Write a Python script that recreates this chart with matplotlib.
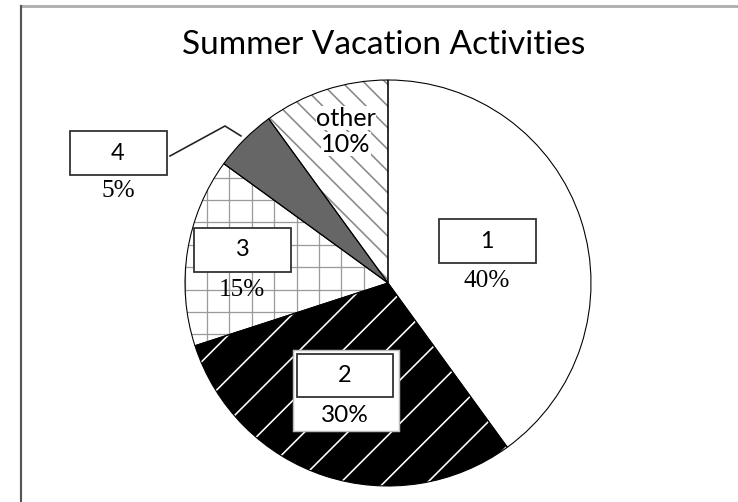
import matplotlib
matplotlib.use("Agg")
import matplotlib.pyplot as plt
from matplotlib.patches import Rectangle
from matplotlib.lines import Line2D
import numpy as np

# data
labels = ["1", "2", "3", "4", "other"]
shares = [40, 30, 15, 5, 10]
pct_text = ["40%", "30%", "15%", "5%", "10%"]

# styles per slice
fills = ["white", "black", "white", "#666666", "white"]
hatches = [None, "/", None, None, "\\\\"]
hatch_cols = ["white", "white", "white", "#666666", "#8a8a8a"]

plt.rcParams["hatch.linewidth"] = 0.9

DPI = 130
R = 1.015
fig = plt.figure(figsize=(738 / DPI, 502 / DPI), dpi=DPI)
ax = fig.add_axes([0, 0, 1, 1])

# hatched fills
wedges, _ = ax.pie(shares, colors=fills, startangle=90, counterclock=False, radius=R,
                   wedgeprops=dict(linewidth=0))
for w, h, hc in zip(wedges, hatches, hatch_cols):
    w.set_edgecolor(hc)
    if h:
        w.set_hatch(h)

# coarse grid texture for slice 3, clipped to the wedge
step = 0.112
gx = np.arange(-0.905 - 2 * step, 0.2, step)
gy = np.arange(0.415 - 12 * step, 1.1, step)
vl = ax.vlines(gx, -1.1, 1.1, color="#9a9a9a", linewidth=0.7, zorder=2)
hl = ax.hlines(gy, -1.1, 1.1, color="#9a9a9a", linewidth=0.7, zorder=2)
vl.set_clip_path(wedges[2])
hl.set_clip_path(wedges[2])

# black outlines on top
outl, _ = ax.pie(shares, startangle=90, counterclock=False, radius=R,
                 wedgeprops=dict(fill=False, edgecolor="black", linewidth=0.6))
for o in outl:
    o.set_zorder(3)

# pixel-matched limits (1 unit = 200 px)
ax.set_xlim(-1.94, 1.75)
ax.set_ylim(-1.095, 1.415)
ax.set_aspect("auto")
ax.axis("off")

sans = "Lato"
serif = "Liberation Serif"

def box(cx, cy, w=0.485, h=0.22):
    ax.add_patch(Rectangle((cx - w / 2, cy - h / 2), w, h, facecolor="white",
                           edgecolor="#333333", linewidth=1.0, zorder=5))

# slice 1
box(0.495, 0.21)
ax.text(0.495, 0.21, labels[0], ha="center", va="center", fontsize=13, family=sans, zorder=6)
ax.text(0.495, 0.01, pct_text[0], ha="center", va="center", fontsize=14, family=serif, zorder=6)

# slice 2 (white backdrop behind box and percent)
ax.add_patch(Rectangle((-0.21 - 0.265, -0.5375 - 0.2025), 0.53, 0.405,
                       facecolor="white", edgecolor="#bbbbbb", linewidth=0.8, zorder=4))
box(-0.215, -0.4625, w=0.48, h=0.215)
ax.text(-0.215, -0.4625, labels[1], ha="center", va="center", fontsize=13, family=sans, zorder=6)
ax.text(-0.215, -0.66, pct_text[1], ha="center", va="center", fontsize=13.5, family=sans, zorder=6)

# slice 3
box(-0.73, 0.1675)
ax.text(-0.73, 0.1675, labels[2], ha="center", va="center", fontsize=13, family=sans, zorder=6)
ax.text(-0.73, -0.035, pct_text[2], ha="center", va="center", fontsize=14, family=serif, zorder=6)

# slice 4 with leader line
box(-1.35, 0.65)
ax.text(-1.35, 0.65, labels[3], ha="center", va="center", fontsize=13, family=sans, zorder=6)
ax.text(-1.35, 0.46, pct_text[3], ha="center", va="center", fontsize=14, family=serif, zorder=6)
w4 = wedges[3]
mid = np.deg2rad((w4.theta1 + w4.theta2) / 2)
ex, ey = 1.04 * np.cos(mid), 1.04 * np.sin(mid)
ax.plot([-1.09, -0.815, ex], [0.635, 0.785, ey], color="#222222", linewidth=0.9, zorder=6)

# other
ax.text(-0.21, 0.825, labels[4], ha="center", va="center", fontsize=14, family=sans, zorder=6,
        bbox=dict(facecolor="white", edgecolor="none", pad=0.3))
ax.text(-0.21, 0.695, pct_text[4], ha="center", va="center", fontsize=14, family=sans, zorder=6,
        bbox=dict(facecolor="white", edgecolor="none", pad=0.3))

# title
fig.text(384 / 738, 1 - 45 / 502, "Summer Vacation Activities", ha="center", va="center",
         fontsize=18.5, family=sans)

# outer frame (cropped)
fig.add_artist(Line2D([21 / 738, 1], [1 - 6 / 502, 1 - 6 / 502], color="#b0b0b0",
                      linewidth=1.6, transform=fig.transFigure))
fig.add_artist(Line2D([21 / 738, 21 / 738], [0, 1 - 6 / 502], color="#555555",
                      linewidth=1.2, transform=fig.transFigure))

fig.savefig("out.png", dpi=DPI)
